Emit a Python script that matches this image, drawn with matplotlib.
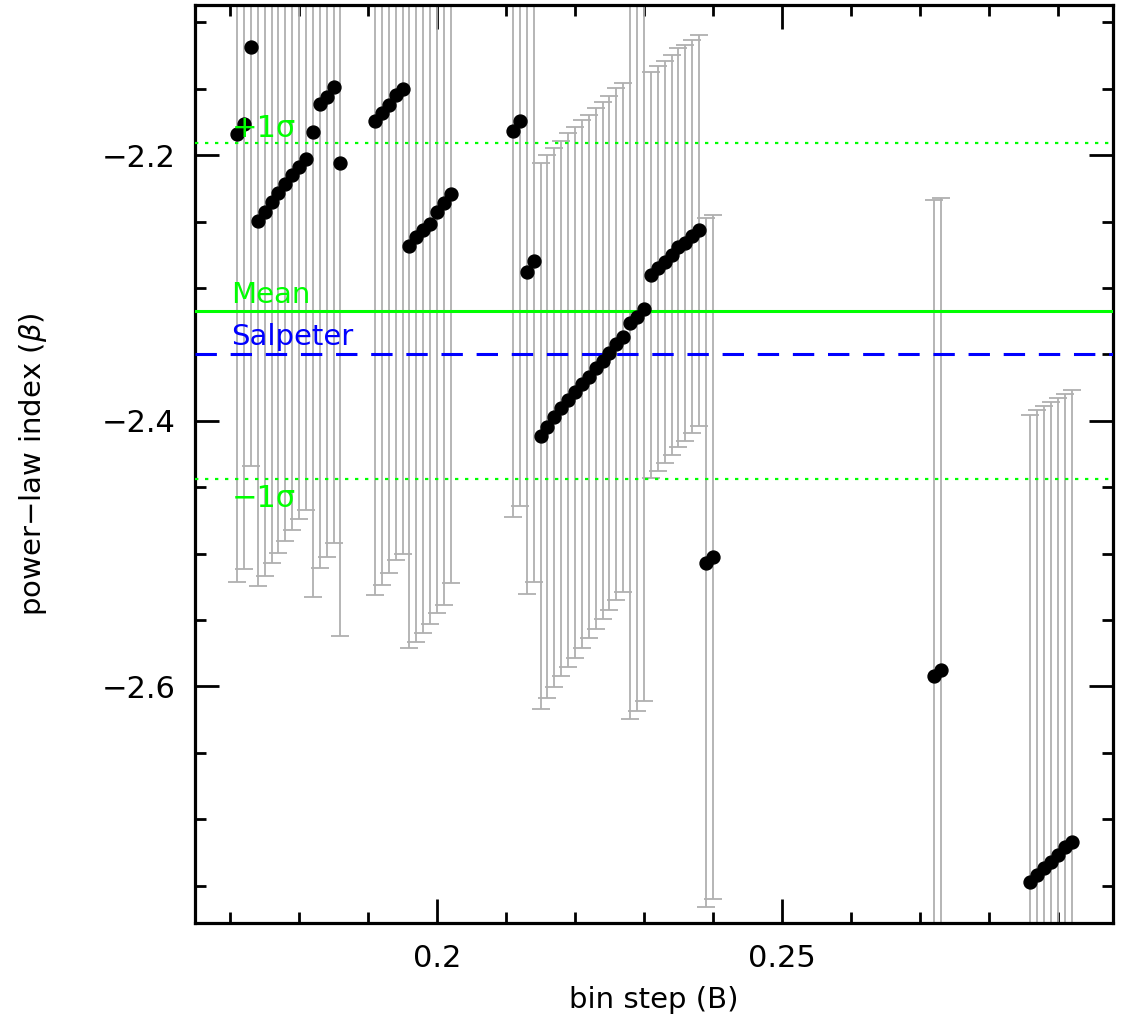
import numpy as np
import matplotlib
matplotlib.use("Agg")
import matplotlib.pyplot as plt

# bin step values (x) and fitted power-law index with its error
bin_step = [0.171, 0.172, 0.173, 0.174, 0.175, 0.176, 0.177, 0.178, 0.179, 0.180,
            0.181, 0.182, 0.183, 0.184, 0.185, 0.186,
            0.191, 0.192, 0.193, 0.194, 0.195, 0.196, 0.197, 0.198, 0.199, 0.200,
            0.201, 0.202,
            0.211, 0.212, 0.213, 0.214,
            0.215, 0.216, 0.217, 0.218, 0.219, 0.220, 0.221, 0.222, 0.223, 0.224,
            0.225, 0.226, 0.227, 0.228, 0.229, 0.230,
            0.231, 0.232, 0.233, 0.234, 0.235, 0.236, 0.237, 0.238,
            0.239, 0.240,
            0.272, 0.273,
            0.286, 0.287, 0.288, 0.289, 0.290, 0.291, 0.292]

beta = [-2.1842, -2.1767, -2.1185, -2.2495, -2.2427, -2.2352, -2.2288, -2.2221, -2.2151, -2.2093,
        -2.2032, -2.1829, -2.1618, -2.1561, -2.1486, -2.2062,
        -2.1744, -2.1686, -2.1624, -2.1548, -2.1503, -2.2683, -2.2615, -2.2565, -2.2519, -2.2431,
        -2.2364, -2.2296,
        -2.1817, -2.1746, -2.2878, -2.2798,
        -2.4115, -2.4045, -2.3974, -2.3907, -2.3844, -2.3786, -2.3724, -2.3669, -2.3606, -2.3548,
        -2.3488, -2.3423, -2.3372, -2.3267, -2.3217, -2.3159,
        -2.2903, -2.2853, -2.2803, -2.2753, -2.2695, -2.2660, -2.2610, -2.2565,
        -2.5069, -2.5028,
        -2.592, -2.588,
        -2.747, -2.7418, -2.7369, -2.7320, -2.7269, -2.7211, -2.7169]

beta_err = [0.337, 0.3352, 0.3154, 0.2747, 0.274, 0.2717, 0.2706, 0.2685, 0.2672, 0.2649,
            0.264, 0.3496, 0.3493, 0.3463, 0.3437, 0.356,
            0.3568, 0.3551, 0.3525, 0.350, 0.350, 0.303, 0.305, 0.303, 0.301, 0.302,
            0.302, 0.2925,
            0.291, 0.2894, 0.2429, 0.2418,
            0.2055, 0.2045, 0.2028, 0.2015, 0.201, 0.1998, 0.1985, 0.197, 0.196, 0.1945,
            0.1935, 0.1927, 0.1915, 0.298, 0.2966, 0.2949,
            0.153, 0.1526, 0.1513, 0.1505, 0.150, 0.149, 0.148, 0.1473,
            0.2594, 0.2576,
            0.358, 0.356,
            0.3513, 0.3499, 0.348, 0.3461, 0.344, 0.3412, 0.340]

mean_beta = -2.317
sigma_beta = 0.1265
salpeter = -2.35

plt.rcParams['font.family'] = ['DejaVu Sans']
fig = plt.figure(figsize=(11.25, 10.14), dpi=100)
ax = fig.add_axes([0.1733, 0.090, 0.816, 0.905])

ax.errorbar(bin_step, beta, yerr=beta_err, fmt='none', ecolor='#b0b0b0',
            elinewidth=1.3, capsize=6.5, capthick=1.3, zorder=2)
ax.plot(bin_step, beta, 'o', color='black', markersize=9.3, zorder=4)

green = '#00ff00'
ax.axhline(mean_beta, color=green, lw=2.2, zorder=3)
ax.axhline(mean_beta + sigma_beta, color=green, lw=1.6, ls=(0, (1.5, 3)), zorder=3)
ax.axhline(mean_beta - sigma_beta, color=green, lw=1.6, ls=(0, (1.5, 3)), zorder=3)
ax.axhline(salpeter, color='#0000ff', lw=2.2, ls=(0, (7, 4.5)), zorder=3)

tx = 0.1702
ax.text(tx, mean_beta + sigma_beta + 0.0043, '+1σ', color=green, fontsize=22, va='baseline', zorder=5)
ax.text(tx, mean_beta + 0.0053, 'Mean', color=green, fontsize=21, va='baseline', zorder=5)
ax.text(tx, salpeter + 0.0068, 'Salpeter', color='#0000ff', fontsize=21, va='baseline', zorder=5)
ax.text(tx, mean_beta - sigma_beta - 0.0218, '−1σ', color=green, fontsize=22, va='baseline', zorder=5)

ax.set_xlim(0.1649, 0.298)
ax.set_ylim(-2.778, -2.087)
ax.set_xticks([0.2, 0.25])
ax.set_xticklabels(['0.2', '0.25'])
ax.set_xticks(np.arange(0.17, 0.295, 0.01), minor=True)
ax.set_yticks([-2.6, -2.4, -2.2])
ax.set_yticklabels(['−2.6', '−2.4', '−2.2'])
ax.set_yticks(np.arange(-2.75, -2.09, 0.05), minor=True)

ax.tick_params(which='both', direction='in', top=True, right=True, width=2, labelsize=22)
ax.tick_params(which='major', length=17)
ax.tick_params(axis='x', which='major', pad=15)
ax.tick_params(axis='y', which='major', pad=14)
ax.tick_params(which='minor', length=8)
for s in ax.spines.values():
    s.set_linewidth(2.3)

ax.set_xlabel('bin step (B)', fontsize=21, labelpad=10)
ax.set_ylabel('power−law index ($\\beta$)', fontsize=21, labelpad=38)

fig.savefig('out.png', dpi=100)
